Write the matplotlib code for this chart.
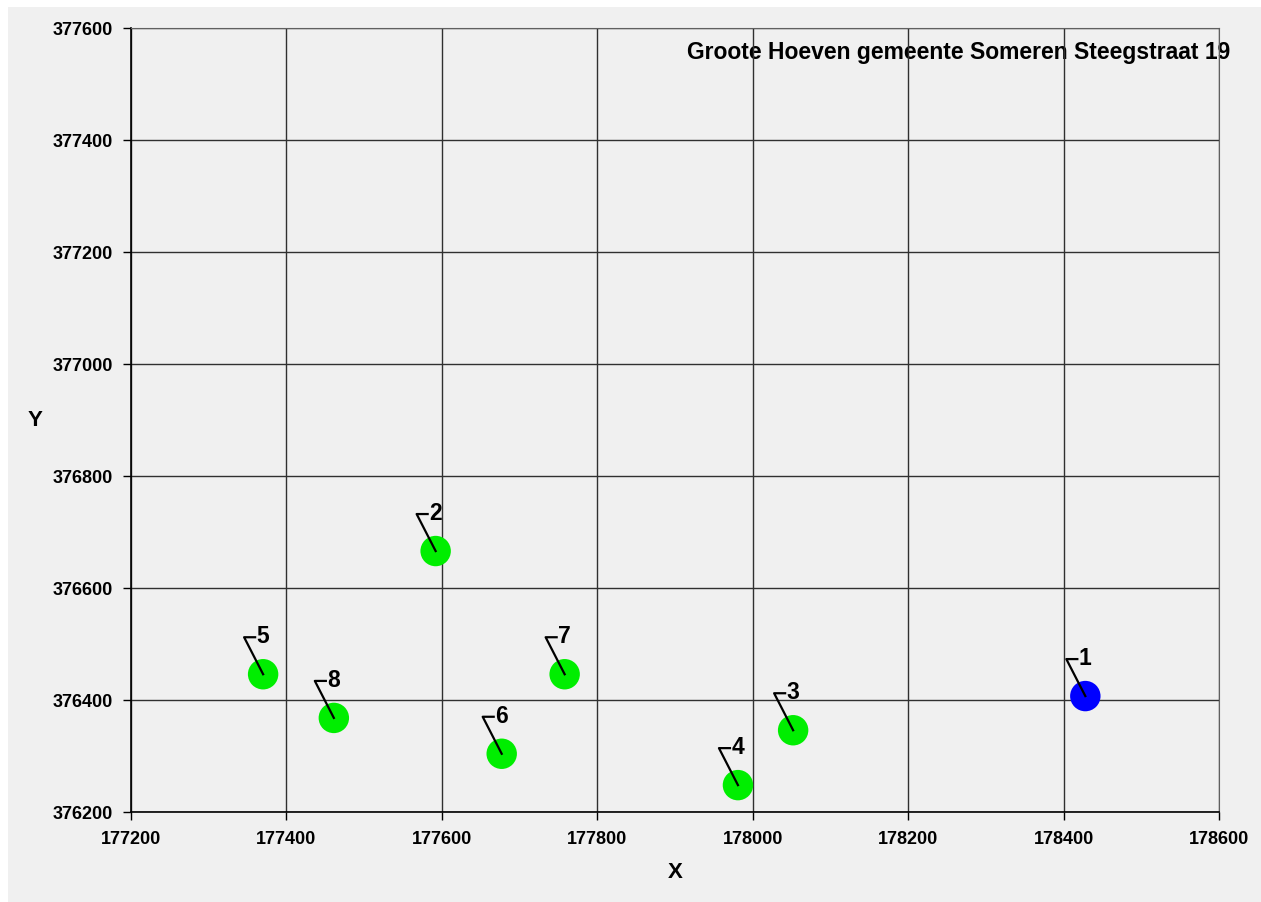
import matplotlib
matplotlib.use("Agg")
import matplotlib.pyplot as plt
import matplotlib.transforms as mtransforms
from matplotlib.patches import Rectangle

# meetpunten (RD-coordinaten)
labels = ["1", "2", "3", "4", "5", "6", "7", "8"]
xs = [178428, 177592, 178052, 177981, 177370, 177677, 177758, 177461]
ys = [376407, 376666, 376346, 376248, 376446, 376304, 376446, 376368]
colors = ["#0000ff", "#00ee00", "#00ee00", "#00ee00", "#00ee00", "#00ee00", "#00ee00", "#00ee00"]

x_ticks = [177200, 177400, 177600, 177800, 178000, 178200, 178400, 178600]
y_ticks = [376200, 376400, 376600, 376800, 377000, 377200, 377400, 377600]

title = "Groote Hoeven gemeente Someren Steegstraat 19"

plt.rcParams['font.family'] = ['Liberation Sans', 'DejaVu Sans']
plt.rcParams['font.weight'] = 'bold'

W, H = 1261, 903
fig = plt.figure(figsize=(W / 100, H / 100), dpi=100, facecolor="white")
# grijze achtergrond met witte rand links/boven
fig.patches.append(Rectangle((8 / W, 0), 1 - 8 / W, 1 - 8 / H, transform=fig.transFigure,
                             facecolor="#f0f0f0", edgecolor="none", zorder=-10))

ax = fig.add_axes([131 / W, 1 - 813 / H, (1219 - 131) / W, (813 - 29) / H])
ax.set_facecolor("#f0f0f0")

ax.set_xlim(177200, 178600)
ax.set_ylim(376200, 377600)
ax.set_xticks(x_ticks)
ax.set_yticks(y_ticks)
ax.tick_params(direction="out", length=6, width=1, labelsize=13, colors="black")
ax.tick_params(axis="x", pad=7)
ax.tick_params(axis="y", pad=7)
for lab in ax.get_xticklabels() + ax.get_yticklabels():
    lab.set_fontweight("bold")

ax.grid(True, color="#303030", linewidth=1)
ax.set_axisbelow(True)
for s in ["top", "right"]:
    ax.spines[s].set_color("#606060")
for s in ["left", "bottom"]:
    ax.spines[s].set_color("black")
    ax.spines[s].set_linewidth(1.2)

ax.scatter(xs, ys, s=480, c=colors, edgecolors="none", zorder=3)

# labels met leader lijnen (offset in pixels)
for lab, x, y in zip(labels, xs, ys):
    trans = mtransforms.ScaledTranslation(x, y, ax.transData)
    trans = mtransforms.Affine2D().scale(1, -1) + trans
    ax.plot([0, -19, -8], [0, -37, -37], color="black", lw=1.6, transform=trans,
            zorder=4, clip_on=False)
    ax.annotate(lab, xy=(x, y), xytext=(-4.8, 27.6), textcoords="offset points",
                fontsize=16.5, fontweight="bold", ha="left", va="center", zorder=5)

ax.text(1230 / W, 1 - 53 / H, title, transform=fig.transFigure, ha="right", va="center",
        fontsize=16.5, fontweight="bold", zorder=0)

fig.text(675 / W, 1 - 873 / H, "X", ha="center", va="center", fontsize=16, fontweight="bold")
fig.text(35 / W, 1 - 421 / H, "Y", ha="center", va="center", fontsize=16, fontweight="bold")

fig.savefig("out.png", dpi=100, facecolor=fig.get_facecolor())
